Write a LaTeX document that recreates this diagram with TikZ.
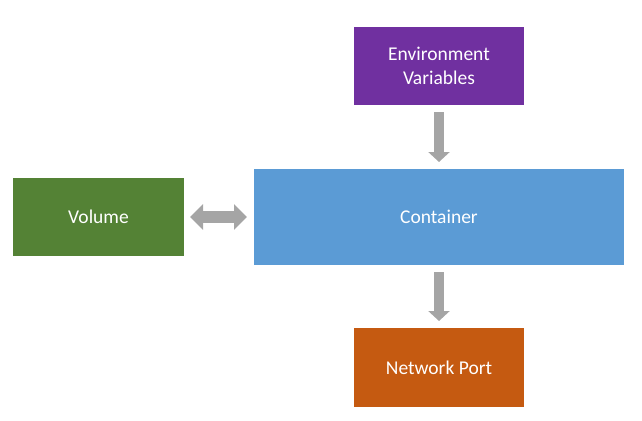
\documentclass[tikz,border=0pt]{standalone}
\usepackage{fontspec}
\setmainfont{Carlito}
\usepackage{xcolor}
\usetikzlibrary{positioning,arrows.meta}
\definecolor{volgreen}{HTML}{548235}
\definecolor{envpurple}{HTML}{7030A0}
\definecolor{contblue}{HTML}{5B9BD5}
\definecolor{portorange}{HTML}{C55A11}
\definecolor{arrowgray}{HTML}{A5A5A5}

\begin{document}
\begin{tikzpicture}[x=1pt, y=1pt]
    \tikzstyle{block} = [rectangle, draw=none, text=white, align=center, inner sep=0pt, outer sep=0pt, font=\fontsize{19.5}{24}\selectfont]
    \tikzstyle{line} = [draw=arrowgray, line width=10pt, -{Triangle[width=21pt, length=10pt]}, shorten <=7pt, shorten >=7pt]
    \tikzstyle{dline} = [draw=arrowgray, line width=12pt, {Triangle[width=25pt, length=13pt]}-{Triangle[width=25pt, length=13pt]}, shorten <=6pt, shorten >=7pt]

    \useasboundingbox (0,0) rectangle (642,-420);

    \node [block, fill=contblue, minimum width=370pt, minimum height=96pt] (cont) at (439,-217) {Container};
    \node [block, fill=envpurple, minimum width=170pt, minimum height=78pt, above=64pt of cont] (env) {Environment\\Variables};
    \node [block, fill=portorange, minimum width=170pt, minimum height=79pt, below=63pt of cont] (port) {Network Port};
    \node [block, fill=volgreen, minimum width=171pt, minimum height=78pt, left=70pt of cont] (vol) {Volume};

    \draw [line] (env) -- (cont);
    \draw [line] (cont) -- (port);
    \draw [dline] (vol) -- (cont);
\end{tikzpicture}
\end{document}
